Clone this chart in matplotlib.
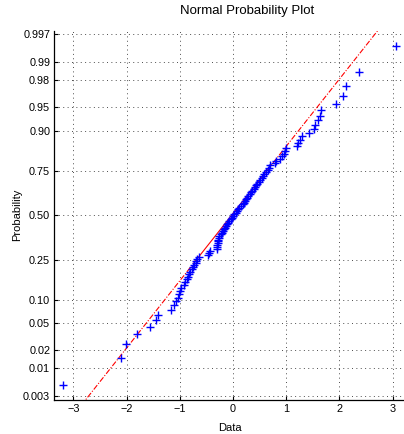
import numpy as np
import matplotlib
matplotlib.use('Agg')
import matplotlib.pyplot as plt
from statistics import NormalDist

# sorted sample values (n = 100)
data = [
    -3.20, -2.10, -2.01, -1.80, -1.56, -1.45, -1.41, -1.17, -1.10, -1.07,
    -1.04, -1.02, -1.00, -0.98, -0.93, -0.90, -0.87, -0.84, -0.82, -0.80,
    -0.78, -0.75, -0.73, -0.70, -0.69, -0.68, -0.64, -0.47, -0.45, -0.44,
    -0.31, -0.30, -0.30, -0.29, -0.28, -0.28, -0.27, -0.26, -0.23, -0.21,
    -0.19, -0.17, -0.15, -0.13, -0.12, -0.10, -0.07, -0.04, -0.02, 0.00,
    0.02, 0.05, 0.07, 0.10, 0.12, 0.15, 0.18, 0.20, 0.22, 0.25,
    0.27, 0.29, 0.32, 0.34, 0.36, 0.39, 0.41, 0.43, 0.46, 0.48,
    0.51, 0.54, 0.56, 0.58, 0.62, 0.65, 0.67, 0.70, 0.79, 0.80,
    0.88, 0.92, 0.95, 0.98, 1.00, 1.20, 1.22, 1.26, 1.29, 1.43,
    1.53, 1.54, 1.59, 1.63, 1.65, 1.94, 2.06, 2.12, 2.36, 3.07,
]
prob_ticks = [0.003, 0.01, 0.02, 0.05, 0.10, 0.25, 0.50, 0.75, 0.90, 0.95, 0.98, 0.99, 0.997]
prob_labels = ['0.003', '0.01', '0.02', '0.05', '0.10', '0.25', '0.50', '0.75',
               '0.90', '0.95', '0.98', '0.99', '0.997']
x_ticks = [-3, -2, -1, 0, 1, 2, 3]

nd = NormalDist()
x = np.sort(np.array(data))
n = len(x)
z = np.array([nd.inv_cdf((i - 0.5) / n) for i in range(1, n + 1)])

# reference line through the quartiles (like MATLAB normplot)
q1, q3 = np.percentile(x, [25, 75], method='hazen')
z1, z3 = nd.inv_cdf(0.25), nd.inv_cdf(0.75)
slope = (z3 - z1) / (q3 - q1)

def zline(v):
    return z1 + slope * (np.asarray(v) - q1)

plt.rcParams['font.family'] = ['Liberation Sans', 'DejaVu Sans']
fig = plt.figure(figsize=(4.04, 4.34), dpi=100)
W, H = 404, 434
ax = fig.add_axes([54.4 / W, (H - 399.9) / H, (404.7 - 54.4) / W, (399.9 - 30.5) / H])

ax.plot([q1, q3], zline([q1, q3]), color='red', lw=0.8, ls='-')
dd = (0, (5, 1.5, 1, 1.5))
ax.plot([x.min(), q1], zline([x.min(), q1]), color='red', lw=0.8, ls=dd)
ax.plot([q3, x.max()], zline([q3, x.max()]), color='red', lw=0.8, ls=dd)
ax.plot(x, z, ls='none', marker='+', color='blue', ms=6, mew=1.0)

rng = x.max() - x.min()
ax.set_xlim(x.min() - 0.025 * rng, x.max() + 0.025 * rng)
zl = nd.inv_cdf(0.9975)
ax.set_ylim(-zl, zl)

ax.set_xticks(x_ticks)
ax.set_yticks([nd.inv_cdf(p) for p in prob_ticks])
ax.set_yticklabels(prob_labels)
ax.tick_params(direction='in', length=3, width=0.8, labelsize=7.8, pad=3)
ax.grid(True, color='0.3', ls=(0, (1, 3.5)), lw=0.7)
for s in ['top', 'right']:
    ax.spines[s].set_visible(False)
for s in ['left', 'bottom']:
    ax.spines[s].set_linewidth(0.9)

fig.text(247 / W, 1 - 11 / H, 'Normal Probability Plot', ha='center', va='center', fontsize=9.5)
fig.text(230 / W, 1 - 428 / H, 'Data', ha='center', va='center', fontsize=8)
fig.text(17 / W, 1 - 215 / H, 'Probability', ha='center', va='center', rotation=90, fontsize=8)

fig.savefig('out.png', dpi=100)
